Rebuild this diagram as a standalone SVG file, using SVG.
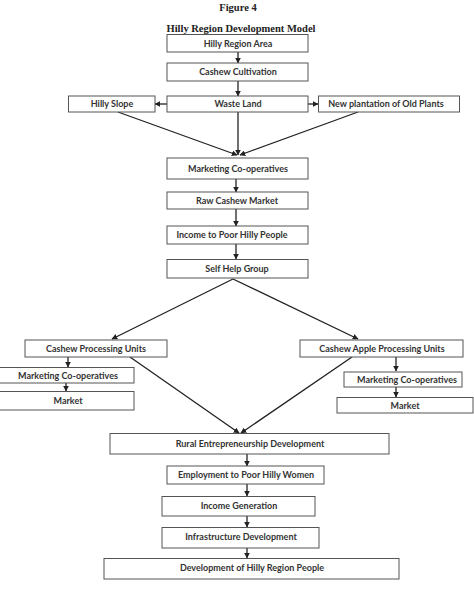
<svg xmlns="http://www.w3.org/2000/svg" width="474" height="603" viewBox="0 0 474 603">
<style>
.box{fill:#fff;stroke:#555;stroke-width:1}
.t{font-family:Lato,"Liberation Sans",sans-serif;font-weight:bold;font-size:9px;fill:#333;text-anchor:middle}
.h{font-family:"Liberation Serif",serif;font-weight:bold;font-size:10.5px;fill:#222;text-anchor:middle}
.c{stroke:#222;stroke-width:1.3;fill:none;marker-end:url(#ah)}
</style>
<defs>
<marker id="ah" viewBox="0 0 10 10" refX="9" refY="5" markerWidth="4.5" markerHeight="4.5" orient="auto" markerUnits="strokeWidth">
<path d="M0,0 L10,5 L0,10 z" fill="#222"/>
</marker>
</defs>
<rect width="474" height="603" fill="#fff"/>
<text class="h" x="238" y="11">Figure 4</text>
<text class="h" x="241" y="32">Hilly Region Development Model</text>

<g id="connectors">
<line class="c" x1="238" y1="52" x2="238" y2="63"/>
<line class="c" x1="238" y1="81" x2="238" y2="96"/>
<line class="c" x1="167" y1="104" x2="155" y2="104"/>
<line class="c" x1="308" y1="104" x2="318" y2="104"/>
<line class="c" x1="118" y1="112" x2="237" y2="155"/>
<line class="c" x1="238" y1="112" x2="238" y2="155"/>
<line class="c" x1="358" y1="112" x2="240" y2="155"/>
<line class="c" x1="236" y1="179" x2="236" y2="192"/>
<line class="c" x1="236" y1="209" x2="236" y2="226"/>
<line class="c" x1="236" y1="244" x2="236" y2="259"/>
<line class="c" x1="233" y1="279" x2="112" y2="339"/>
<line class="c" x1="233" y1="279" x2="358" y2="339"/>
<line class="c" x1="68" y1="357" x2="68" y2="367"/>
<line class="c" x1="66" y1="383" x2="66" y2="391"/>
<line class="c" x1="396" y1="357" x2="396" y2="371"/>
<line class="c" x1="396" y1="387" x2="396" y2="397"/>
<line class="c" x1="130" y1="357" x2="239" y2="433"/>
<line class="c" x1="352" y1="357" x2="241" y2="433"/>
<line class="c" x1="247" y1="454" x2="247" y2="466"/>
<line class="c" x1="247" y1="484" x2="247" y2="496"/>
<line class="c" x1="247" y1="516" x2="247" y2="527"/>
<line class="c" x1="247" y1="548" x2="247" y2="558"/>
</g>

<g id="n1"><rect class="box" x="167" y="34.5" width="141" height="17.5"/><text class="t" x="238" y="46.5">Hilly Region Area</text></g>
<g id="n2"><rect class="box" x="167" y="63" width="141" height="18"/><text class="t" x="238" y="75">Cashew Cultivation</text></g>
<g id="n3"><rect class="box" x="167" y="96" width="141" height="16"/><text class="t" x="238" y="107">Waste Land</text></g>
<g id="n4"><rect class="box" x="68.5" y="96" width="86.5" height="16"/><text class="t" x="112" y="107">Hilly Slope</text></g>
<g id="n5"><rect class="box" x="318.5" y="96" width="141" height="16"/><text class="t" x="386" y="107">New plantation of Old Plants</text></g>
<g id="n6"><rect class="box" x="167" y="158" width="141" height="21"/><text class="t" x="238" y="171.5">Marketing Co-operatives</text></g>
<g id="n7"><rect class="box" x="167" y="192" width="141" height="17"/><text class="t" x="237" y="204">Raw Cashew Market</text></g>
<g id="n8"><rect class="box" x="167" y="226" width="141" height="18"/><text class="t" x="232" y="238">Income to Poor Hilly People</text></g>
<g id="n9"><rect class="box" x="167" y="259.5" width="141" height="18.5"/><text class="t" x="237" y="272">Self Help Group</text></g>
<g id="n10"><rect class="box" x="25" y="340" width="142" height="17"/><text class="t" x="96" y="351.5">Cashew Processing Units</text></g>
<g id="n11"><rect class="box" x="300" y="340" width="163" height="17"/><text class="t" x="382" y="351.5">Cashew Apple Processing Units</text></g>
<g id="n12"><rect class="box" x="-1" y="367.5" width="135" height="15.5"/><text class="t" x="68" y="378.5">Marketing Co-operatives</text></g>
<g id="n13"><rect class="box" x="-1" y="391.5" width="135" height="18.5"/><text class="t" x="68" y="403.5">Market</text></g>
<g id="n14"><rect class="box" x="344" y="372" width="118" height="15"/><text class="t" x="407" y="383">Marketing Co-operatives</text></g>
<g id="n15"><rect class="box" x="337" y="397.5" width="136" height="15.5"/><text class="t" x="405" y="409">Market</text></g>
<g id="n16"><rect class="box" x="110" y="433.5" width="279" height="20.5"/><text class="t" x="250" y="446.5">Rural Entrepreneurship Development</text></g>
<g id="n17"><rect class="box" x="167" y="466" width="157" height="18"/><text class="t" x="246" y="478">Employment to Poor Hilly Women</text></g>
<g id="n18"><rect class="box" x="162" y="496.5" width="153" height="19.5"/><text class="t" x="239" y="509">Income Generation</text></g>
<g id="n19"><rect class="box" x="162" y="527.5" width="157" height="20.5"/><text class="t" x="241" y="539.5">Infrastructure Development</text></g>
<g id="n20"><rect class="box" x="104" y="558.5" width="295" height="20.5"/><text class="t" x="252" y="570.5">Development of Hilly Region People</text></g>
</svg>
